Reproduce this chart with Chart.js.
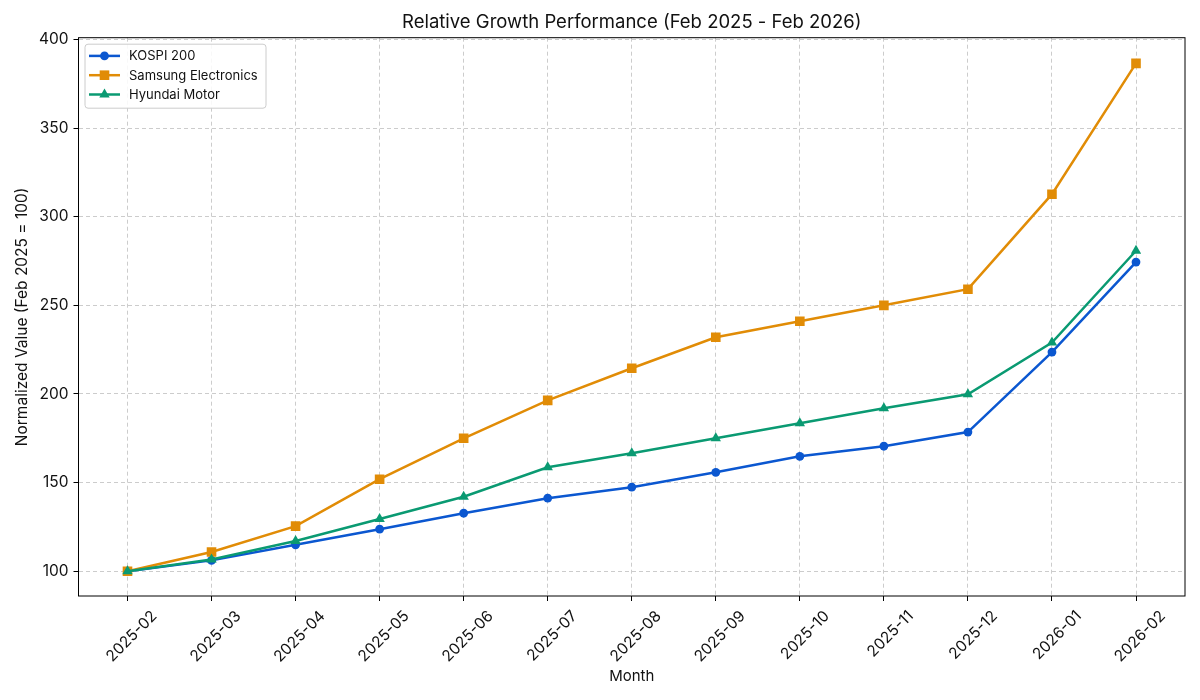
<!DOCTYPE html>
<html lang="en">
<head>
    <meta charset="UTF-8">
    <title>Relative Growth Performance</title>
    <style>
        html, body { margin: 0; padding: 0; background: #fff; }
        #grafica { width: 1200px; height: 700px; }
    </style>
    <script src="https://cdn.jsdelivr.net/npm/chart.js@4.4.1/dist/chart.umd.min.js"></script>
</head>
<body>
    <div id="grafica"><canvas id="lienzo"></canvas></div>
    <script>
        // datos (Feb 2025 = 100)
        const months = ['2025-02', '2025-03', '2025-04', '2025-05', '2025-06', '2025-07', '2025-08',
            '2025-09', '2025-10', '2025-11', '2025-12', '2026-01', '2026-02'];
        const kospi = [100, 106.1, 114.9, 123.7, 132.7, 141.2, 147.4, 155.8, 164.8, 170.5, 178.5, 223.6, 274.4];
        const samsung = [100, 110.8, 125.4, 151.9, 175.0, 196.4, 214.5, 232.0, 241.0, 250.0, 259.1, 312.7, 386.5];
        const hyundai = [100, 106.6, 117.0, 129.4, 142.0, 158.6, 166.5, 175.0, 183.5, 191.9, 199.8, 229.0, 280.8];
        const yTicks = [100, 150, 200, 250, 300, 350, 400];

        const FONT = 'Inter, "Noto Sans", sans-serif';
        Chart.defaults.font.family = FONT;
        Chart.defaults.color = '#111';

        const toPoints = arr => arr.map((v, i) => ({ x: i, y: v }));

        const series = [
            { label: 'KOSPI 200', data: kospi, color: '#0b57d0', style: 'circle', radius: 4.4, order: 2 },
            { label: 'Samsung Electronics', data: samsung, color: '#e18c06', style: 'rect', radius: 6.8, order: 1 },
            { label: 'Hyundai Motor', data: hyundai, color: '#0a9a72', style: 'triangle', radius: 6, order: 0 },
        ];

        // marco negro alrededor del area (como los spines de matplotlib)
        const frame = {
            id: 'frame',
            afterDatasetsDraw(chart) {
                const { ctx, chartArea: a } = chart;
                ctx.save();
                ctx.strokeStyle = '#000';
                ctx.lineWidth = 1;
                ctx.strokeRect(a.left, a.top, a.right - a.left, a.bottom - a.top);
                ctx.restore();
            }
        };

        function marker(ctx, style, x, y, r) {
            ctx.beginPath();
            if (style === 'circle') {
                ctx.arc(x, y, r, 0, Math.PI * 2);
            } else if (style === 'rect') {
                const s = r / Math.SQRT2;
                ctx.rect(x - s, y - s, 2 * s, 2 * s);
            } else {
                ctx.moveTo(x, y - r);
                ctx.lineTo(x + r * 0.866, y + r * 0.5);
                ctx.lineTo(x - r * 0.866, y + r * 0.5);
                ctx.closePath();
            }
            ctx.fill();
        }

        // leyenda dentro del area, arriba a la izquierda
        const legendBox = {
            id: 'legendBox',
            afterDraw(chart) {
                const { ctx, chartArea: a } = chart;
                const x0 = a.left + 6.5, y0 = a.top + 6.5;
                ctx.save();
                ctx.fillStyle = 'rgba(255,255,255,0.85)';
                ctx.strokeStyle = '#cccccc';
                ctx.lineWidth = 1;
                ctx.beginPath();
                ctx.roundRect(x0, y0, 181, 64, 3);
                ctx.fill();
                ctx.stroke();
                ctx.font = '13px ' + FONT;
                ctx.textBaseline = 'middle';
                series.forEach((s, i) => {
                    const y = a.top + 18.2 + i * 19.3;
                    ctx.strokeStyle = s.color;
                    ctx.fillStyle = s.color;
                    ctx.lineWidth = 2.5;
                    ctx.beginPath();
                    ctx.moveTo(a.left + 10.5, y);
                    ctx.lineTo(a.left + 41.5, y);
                    ctx.stroke();
                    marker(ctx, s.style, a.left + 26, y, s.radius);
                    ctx.fillStyle = '#111';
                    ctx.fillText(s.label, a.left + 50.5, y + 0.5);
                });
                ctx.restore();
            }
        };

        const grid = {
            color: '#cccccc',
            lineWidth: 1,
            drawTicks: true,
            tickLength: 5,
            tickColor: '#000',
            tickBorderDash: [],
            tickWidth: 1,
        };
        // en v4 el guion de la rejilla va en border.dash
        const border = { display: false, dash: [4, 3] };

        new Chart(document.getElementById('lienzo'), {
            type: 'line',
            data: {
                datasets: series.map(s => ({
                    label: s.label,
                    data: toPoints(s.data),
                    order: s.order,
                    borderColor: s.color,
                    backgroundColor: s.color,
                    borderWidth: 2.5,
                    pointStyle: s.style,
                    pointRadius: s.radius,
                    pointBorderWidth: 0,
                    pointHoverRadius: s.radius,
                    tension: 0,
                    fill: false,
                }))
            },
            options: {
                responsive: true,
                maintainAspectRatio: false,
                animation: false,
                layout: { padding: { left: 0, right: 15, top: 0, bottom: 0 } },
                plugins: {
                    legend: { display: false },
                    tooltip: { enabled: false },
                    title: {
                        display: true,
                        fullSize: false,
                        text: 'Relative Growth Performance (Feb 2025 - Feb 2026)',
                        font: { size: 18.5, weight: 'normal' },
                        color: '#111',
                        padding: { top: 11.5, bottom: 4 },
                    },
                },
                scales: {
                    x: {
                        type: 'linear',
                        min: -0.583,
                        max: 12.583,
                        grid: grid,
                        border: border,
                        afterBuildTicks: scale => { scale.ticks = months.map((m, i) => ({ value: i })); },
                        afterFit: scale => { scale.height = 104; },
                        ticks: {
                            autoSkip: false,
                            minRotation: 45,
                            maxRotation: 45,
                            padding: 6,
                            labelOffset: 27,
                            font: { size: 15.5 },
                            color: '#111',
                            callback: v => months[v],
                        },
                        title: {
                            display: true,
                            text: 'Month',
                            font: { size: 15 },
                            color: '#111',
                            padding: { top: 0, bottom: 15 },
                        },
                    },
                    y: {
                        type: 'linear',
                        min: 86,
                        max: 401,
                        grid: grid,
                        border: border,
                        afterBuildTicks: scale => { scale.ticks = yTicks.map(v => ({ value: v })); },
                        afterFit: scale => { scale.width = 78.5; },
                        ticks: {
                            padding: 5,
                            font: { size: 15.5 },
                            color: '#111',
                        },
                        title: {
                            display: true,
                            text: 'Normalized Value (Feb 2025 = 100)',
                            font: { size: 15.5 },
                            color: '#111',
                            padding: { top: 13, bottom: 0 },
                        },
                    },
                },
            },
            plugins: [frame, legendBox],
        });
    </script>
</body>
</html>
